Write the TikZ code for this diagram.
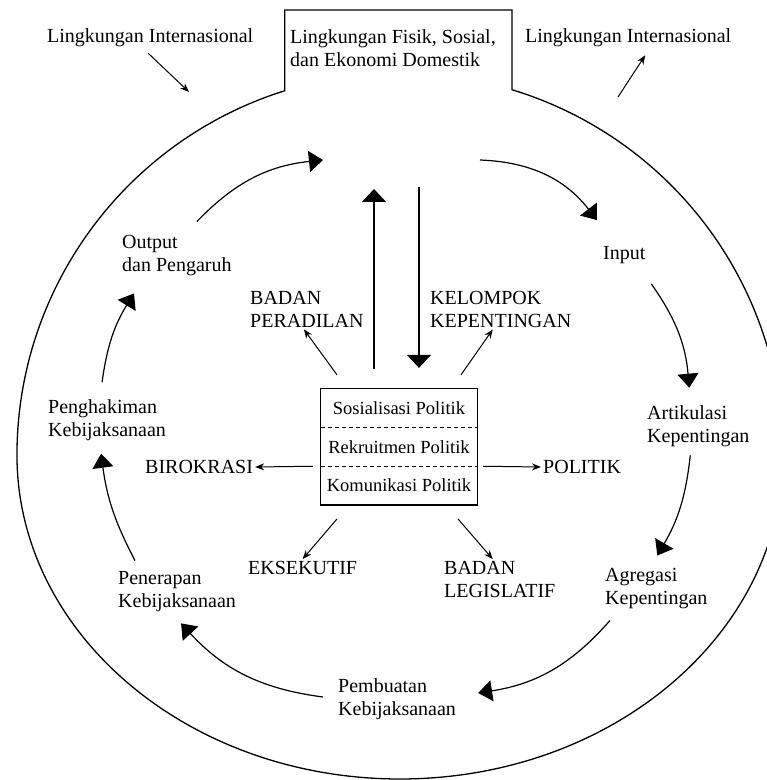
\documentclass[tikz,border=0pt]{standalone}
\usepackage{fontspec}
\setmainfont{Liberation Serif}
\usetikzlibrary{positioning,arrows.meta}

\begin{document}
\begin{tikzpicture}[x=1pt,y=1pt]
\tikzstyle{every node}=[font=\fontsize{20}{23}\selectfont, inner sep=2pt]
\tikzstyle{lbl}=[anchor=west, align=left]
\tikzstyle{row}=[minimum width=156pt, minimum height=38.3pt, inner sep=0pt, font=\fontsize{18.5}{21}\selectfont]
\tikzstyle{cyc}=[line width=1.2pt, -{Triangle[length=14pt,width=21pt]}]
\tikzstyle{big}=[line width=1.3pt, -{Triangle[length=13pt,width=24pt]}]
\tikzstyle{small}=[line width=1pt, -{Stealth[length=9pt,width=7pt]}]

\clip (0,0) rectangle (767,780);

\draw[line width=1.3pt] (284.8,689.3) arc[start angle=107.5,end angle=180,x radius=383,y radius=382]
  arc[start angle=180,end angle=360,x radius=383,y radius=324]
  arc[start angle=0,end angle=73,x radius=383,y radius=382] |- (284.8,770) -- cycle;

\node[lbl] (intL) at (45,742) {Lingkungan Internasional};
\node[lbl] (dom) at (288,731.5) {Lingkungan Fisik, Sosial,\\dan Ekonomi Domestik};
\node[lbl] (intR) at (523,742) {Lingkungan Internasional};
\node[lbl] (output) at (120,524) {Output\\dan Pengaruh};
\node[lbl] (input) at (601,525) {Input};
\node[lbl] (artik) at (645,353.5) {Artikulasi\\Kepentingan};
\node[lbl] (agreg) at (603,191) {Agregasi\\Kepentingan};
\node[lbl] (pemb) at (336,80.5) {Pembuatan\\Kebijaksanaan};
\node[lbl] (pener) at (116,188) {Penerapan\\Kebijaksanaan};
\node[lbl] (pengh) at (46,360) {Penghakiman\\Kebijaksanaan};
\node[lbl] (peradilan) at (248,471) {BADAN\\PERADILAN};
\node[lbl] (kelompok) at (428,471) {KELOMPOK\\KEPENTINGAN};
\node[lbl] (birokrasi) at (143,313) {BIROKRASI};
\node[lbl] (politik) at (541,313) {POLITIK};
\node[lbl] (eksekutif) at (246,212) {EKSEKUTIF};
\node[lbl] (legislatif) at (442,200.5) {BADAN\\LEGISLATIF};

\node[row] (sos) at (399,371.8) {Sosialisasi Politik};
\node[row, below=0pt of sos] (rek) {Rekruitmen Politik};
\node[row, below=0pt of rek] (kom) {Komunikasi Politik};
\draw[line width=1.2pt] (sos.north west) rectangle (kom.south east);
\draw[line width=1pt, dash pattern=on 4pt off 3pt] (sos.south west) -- (sos.south east);
\draw[line width=1pt, dash pattern=on 4pt off 3pt] (rek.south west) -- (rek.south east);

\coordinate (envL) at (189,688);
\coordinate (envR) at (618,683);
\coordinate (topL) at (323,620);
\coordinate (topR) at (480,620);
\coordinate (upEnd) at (374,591);
\coordinate (downStart) at (419,593);

\draw[small] ([shift={(-2,-4)}]intL.south) -- (envL);
\draw[small] (envR) -- ([shift={(17,-6)}]intR.south);
\draw[big] ([shift={(-25,20)}]sos.north) -- (upEnd);
\draw[big] (downStart) -- ([shift={(20,21)}]sos.north);

\draw[small] ([shift={(-62,14)}]sos.north) -- ([xshift=-3]peradilan.south);
\draw[small] ([shift={(62,14)}]sos.north) -- ([xshift=-8]kelompok.south);
\draw[small] ([shift={(-62,-14)}]kom.south) -- (eksekutif.north);
\draw[small] ([shift={(59,-14)}]kom.south) -- ([xshift=-7]legislatif.north);
\draw[small] ([xshift=-8]rek.south west) -- (birokrasi.east);
\draw[small] ([xshift=6]rek.south east) -- (politik.west);

\draw[cyc] ([shift={(-5,15)}]pengh.north) to[bend left=12] ([shift={(14,-15)}]output.south west);
\draw[cyc] ([shift={(20,12)}]output.north) to[bend left=20] (topL);
\draw[cyc] (topR) to[bend left=25] ([shift={(-4,24)}]input.north west);
\draw[cyc] ([shift={(27,-18)}]input.south) to[bend left=15] ([shift={(-9,16)}]artik.north);
\draw[cyc] ([shift={(-8,-6)}]artik.south) to[bend left=12] ([shift={(1,11)}]agreg.north);
\draw[cyc] ([shift={(7,-9)}]agreg.south west) to[bend left=20] ([shift={(20,6.5)}]pemb.east);
\draw[cyc] ([shift={(-13,2.5)}]pemb.west) to[bend left=20] ([shift={(4,-9)}]pener.south);
\draw[cyc] ([shift={(19,9)}]pener.north west) to[bend left=10] ([shift={(-6,-11)}]pengh.south);
\end{tikzpicture}
\end{document}
